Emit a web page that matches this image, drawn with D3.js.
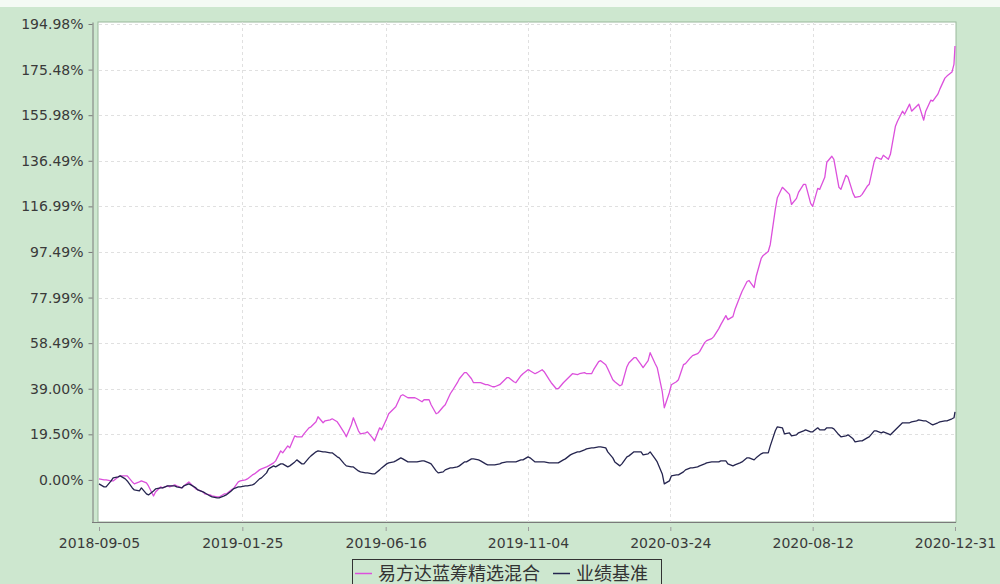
<!DOCTYPE html>
<html><head><meta charset="utf-8">
<script src="https://cdn.jsdelivr.net/npm/d3@7/dist/d3.min.js"></script>
<style>html,body{margin:0;padding:0;background:#cde7cf;} svg{display:block}</style>
</head><body><svg id="c" width="1000" height="584"></svg>
<script>
// Wednesday samples
const wedDates = [
"2018-09-05","2018-09-12","2018-09-19","2018-09-26","2018-10-03","2018-10-10","2018-10-17","2018-10-24","2018-10-31","2018-11-07",
"2018-11-14","2018-11-21","2018-11-28","2018-12-05","2018-12-12","2018-12-19","2018-12-26","2019-01-02","2019-01-09","2019-01-16",
"2019-01-23","2019-01-30","2019-02-06","2019-02-13","2019-02-20","2019-02-27","2019-03-06","2019-03-13","2019-03-20","2019-03-27",
"2019-04-03","2019-04-10","2019-04-17","2019-04-24","2019-05-01","2019-05-08","2019-05-15","2019-05-22","2019-05-29","2019-06-05",
"2019-06-12","2019-06-19","2019-06-26","2019-07-03","2019-07-10","2019-07-17","2019-07-24","2019-07-31","2019-08-07","2019-08-14",
"2019-08-21","2019-08-28","2019-09-04","2019-09-11","2019-09-18","2019-09-25","2019-10-02","2019-10-09","2019-10-16","2019-10-23",
"2019-10-30","2019-11-06","2019-11-13","2019-11-20","2019-11-27","2019-12-04","2019-12-11","2019-12-18","2019-12-25","2020-01-01",
"2020-01-08","2020-01-15","2020-01-22","2020-01-29","2020-02-05","2020-02-12","2020-02-19","2020-02-26","2020-03-04","2020-03-11",
"2020-03-18","2020-03-25","2020-04-01","2020-04-08","2020-04-15","2020-04-22","2020-04-29","2020-05-06","2020-05-13","2020-05-20",
"2020-05-27","2020-06-03","2020-06-10","2020-06-17","2020-06-24","2020-07-01","2020-07-08","2020-07-15","2020-07-22","2020-07-29",
"2020-08-05","2020-08-12","2020-08-19","2020-08-26","2020-09-02","2020-09-09","2020-09-16","2020-09-23","2020-09-30","2020-10-07",
"2020-10-14","2020-10-21","2020-10-28","2020-11-04","2020-11-11","2020-11-18","2020-11-25","2020-12-02","2020-12-09","2020-12-16",
"2020-12-23","2020-12-30","2020-12-31"];

const wedFund = [
0.43,0.00,-0.43,1.71,1.71,-1.71,-0.43,-2.57,-5.14,-3.43,
-3.00,-2.57,-2.57,-1.71,-4.29,-6.00,-6.86,-7.29,-6.00,-3.86,
-0.43,0.43,2.57,4.71,6.00,8.14,11.57,13.71,18.43,19.71,
22.71,27.00,25.28,26.14,23.57,18.43,26.57,19.71,20.57,16.71,
21.43,28.28,31.28,36.43,35.14,34.71,34.28,32.14,28.71,32.14,
38.14,43.28,45.85,41.57,41.57,40.71,39.85,41.57,43.71,41.57,
45.42,46.71,45.85,46.28,41.57,39.00,42.42,45.42,45.42,45.42,
47.14,51.00,47.57,42.00,40.71,50.14,52.28,48.00,54.42,48.00,
30.85,40.71,42.85,49.71,53.14,54.85,59.57,61.28,66.42,68.56,
72.85,80.56,85.28,86.99,95.99,100.70,120.70,124.30,117.80,122.99,
126.42,116.99,124.27,135.84,137.13,124.27,129.42,120.85,122.13,126.42,
137.99,138.84,139.27,153.41,156.41,157.70,160.70,157.70,161.98,167.13,
172.70,177.84,185.55];

const wedBench = [
-1.71,-3.00,0.86,1.71,-0.43,-4.29,-3.43,-6.43,-3.86,-3.43,
-2.57,-3.00,-2.57,-2.14,-4.29,-5.57,-7.29,-7.71,-6.43,-3.86,
-3.00,-2.57,-1.71,0.86,4.71,5.57,6.86,6.00,8.57,6.86,
10.28,12.43,12.00,11.57,9.43,6.00,5.57,3.43,3.00,2.57,
5.14,7.29,8.14,9.00,7.71,7.71,8.14,6.86,3.00,4.29,
5.14,6.00,7.71,9.00,8.14,6.43,6.43,7.29,7.71,7.71,
8.57,9.43,7.71,7.71,7.29,7.29,9.00,11.14,12.00,13.28,
13.71,14.14,12.00,7.71,6.86,10.28,12.00,10.71,12.00,7.71,
-1.71,1.71,2.14,4.29,5.14,6.00,7.29,7.71,8.14,6.86,
6.43,7.71,9.43,9.43,11.57,14.57,22.71,19.71,18.86,20.14,
21.43,20.57,21.43,22.28,21.85,18.43,19.28,16.28,16.71,18.43,
21.00,20.57,19.28,22.28,24.43,24.85,25.71,25.28,23.57,24.85,
25.28,26.57,29.14];

// Monday samples
const monDates = [
"2018-09-10","2018-09-17","2018-09-24","2018-10-01","2018-10-08","2018-10-15","2018-10-22","2018-10-29","2018-11-05","2018-11-12",
"2018-11-19","2018-11-26","2018-12-03","2018-12-10","2018-12-17","2018-12-24","2018-12-31","2019-01-07","2019-01-14","2019-01-21",
"2019-01-28","2019-02-04","2019-02-11","2019-02-18","2019-02-25","2019-03-04","2019-03-11","2019-03-18","2019-03-25","2019-04-01",
"2019-04-08","2019-04-15","2019-04-22","2019-04-29","2019-05-06","2019-05-13","2019-05-20","2019-05-27","2019-06-03","2019-06-10",
"2019-06-17","2019-06-24","2019-07-01","2019-07-08","2019-07-15","2019-07-22","2019-07-29","2019-08-05","2019-08-12","2019-08-19",
"2019-08-26","2019-09-02","2019-09-09","2019-09-16","2019-09-23","2019-09-30","2019-10-07","2019-10-14","2019-10-21","2019-10-28",
"2019-11-04","2019-11-11","2019-11-18","2019-11-25","2019-12-02","2019-12-09","2019-12-16","2019-12-23","2019-12-30","2020-01-06",
"2020-01-13","2020-01-20","2020-01-27","2020-02-03","2020-02-10","2020-02-17","2020-02-24","2020-03-02","2020-03-09","2020-03-16",
"2020-03-23","2020-03-30","2020-04-06","2020-04-13","2020-04-20","2020-04-27","2020-05-04","2020-05-11","2020-05-18","2020-05-25",
"2020-06-01","2020-06-08","2020-06-15","2020-06-22","2020-06-29","2020-07-06","2020-07-13","2020-07-20","2020-07-27","2020-08-03",
"2020-08-10","2020-08-17","2020-08-24","2020-08-31","2020-09-07","2020-09-14","2020-09-21","2020-09-28","2020-10-05","2020-10-12",
"2020-10-19","2020-10-26","2020-11-02","2020-11-09","2020-11-16","2020-11-23","2020-11-30","2020-12-07","2020-12-14","2020-12-21",
"2020-12-28"];

const monFund = [
0.00,-0.43,1.29,1.71,-0.86,-0.86,-1.29,-6.86,-3.00,-2.57,
-2.14,-3.43,-0.86,-3.86,-5.14,-6.43,-7.29,-6.00,-4.29,-0.86,
0.00,2.14,4.29,5.57,7.29,12.43,14.57,18.86,18.43,22.28,
24.85,24.43,25.71,24.85,20.14,23.57,21.00,20.14,18.00,22.28,
26.14,30.43,36.00,35.14,35.14,33.43,34.28,28.28,31.28,36.85,
41.57,45.85,43.28,41.57,40.71,39.85,40.71,43.71,42.00,44.57,
47.14,45.42,47.14,42.85,39.00,41.57,44.57,45.00,45.85,45.42,
50.57,49.28,42.85,40.28,48.42,52.28,49.28,51.00,49.71,37.71,
37.28,42.00,49.28,52.28,53.99,58.71,60.42,64.71,70.28,69.85,
78.42,84.85,82.28,94.71,97.70,115.70,125.13,122.13,120.42,126.42,
118.27,124.70,129.42,138.42,125.13,130.27,122.56,121.27,125.56,136.27,
137.13,137.13,151.28,157.70,160.70,159.83,153.84,162.41,164.98,171.84,
174.41];

const monBench = [
-3.00,-0.43,1.29,0.43,-3.43,-4.71,-6.00,-4.71,-3.43,-2.57,
-2.57,-3.43,-1.71,-3.43,-5.14,-6.86,-7.71,-6.86,-4.71,-3.00,
-2.57,-2.14,0.43,3.00,6.00,6.86,5.57,7.71,6.86,9.43,
12.00,12.00,11.57,9.86,6.86,5.57,3.86,3.00,2.57,4.29,
6.86,7.71,9.43,7.71,7.71,8.14,7.29,3.86,3.43,5.14,
5.57,7.71,9.00,8.57,6.86,6.43,6.86,7.71,7.71,8.57,
9.86,7.71,7.71,7.29,7.29,8.57,10.71,12.00,12.86,13.71,
14.14,13.71,9.43,6.00,9.86,12.00,12.00,11.14,9.00,2.57,
-0.43,2.14,3.43,5.14,5.57,6.86,7.71,7.71,8.14,6.00,
7.29,9.43,8.57,11.14,11.57,21.00,22.28,20.14,19.28,21.00,
20.57,22.28,21.43,22.28,19.28,18.86,17.57,16.71,18.00,21.00,
20.14,19.71,21.43,24.43,24.43,25.28,25.28,24.00,24.43,25.28,
26.14];

const seriesNames = ["易方达蓝筹精选混合", "业绩基准"];
const seriesColors = ["#dc50dc", "#25254f"];
const yTickValues = [0, 19.50, 39.00, 58.49, 77.99, 97.49, 116.99, 136.49, 155.98, 175.48, 194.98];
const yTickLabels = ["0.00%","19.50%","39.00%","58.49%","77.99%","97.49%","116.99%","136.49%","155.98%","175.48%","194.98%"];
const xTickLabels = ["2018-09-05","2019-01-25","2019-06-16","2019-11-04","2020-03-24","2020-08-12","2020-12-31"];

const parse = d3.timeParse("%Y-%m-%d");
const rows = wedDates.map((d,i)=>({date:parse(d), fund:wedFund[i], bench:wedBench[i]}))
  .concat(monDates.map((d,i)=>({date:parse(d), fund:monFund[i], bench:monBench[i]})))
  .sort((a,b)=>a.date-b.date);
const xTicks = xTickLabels.map(parse);

const svg = d3.select("#c");
const L = 99, R = 955, T = 22, B = 522;
const x = d3.scaleTime().domain(d3.extent(rows, r=>r.date)).range([L, R]);
const y = d3.scaleLinear().domain([-18.0, 195.84]).range([B, T]);

// top light band
svg.append("rect").attr("x",0).attr("y",0).attr("width",1000).attr("height",7).attr("fill","#f4faf4");

// plot area
svg.append("rect").attr("x",L-1).attr("y",T).attr("width",R-L+2).attr("height",B-T)
  .attr("fill","#ffffff").attr("stroke","#9ab89c").attr("stroke-width",1);

// grid
const g = svg.append("g");
g.selectAll("line.h").data(yTickValues.slice(1)).join("line")
  .attr("x1",L).attr("x2",R).attr("y1",d=>Math.round(y(d))+0.5).attr("y2",d=>Math.round(y(d))+0.5)
  .attr("stroke","#e0e0e0").attr("stroke-dasharray","3,3");
g.selectAll("line.v").data(xTicks.slice(1,-1)).join("line")
  .attr("y1",T).attr("y2",B).attr("x1",d=>Math.round(x(d))+0.5).attr("x2",d=>Math.round(x(d))+0.5)
  .attr("stroke","#e0e0e0").attr("stroke-dasharray","3,3");

// lines
const lineF = d3.line().x(d=>x(d.date)).y(d=>y(d.fund));
const lineB = d3.line().x(d=>x(d.date)).y(d=>y(d.bench));
svg.append("path").datum(rows).attr("d",lineF).attr("fill","none")
  .attr("stroke",seriesColors[0]).attr("stroke-width",1.3).attr("stroke-linejoin","round");
svg.append("path").datum(rows).attr("d",lineB).attr("fill","none")
  .attr("stroke",seriesColors[1]).attr("stroke-width",1.3).attr("stroke-linejoin","round");

// y axis
const font = "'DejaVu Sans', Verdana, sans-serif";
const ya = svg.append("g").attr("transform","translate(92.5,0)")
  .call(d3.axisLeft(y).tickValues(yTickValues).tickFormat((d,i)=>yTickLabels[i]).tickSize(4).tickSizeOuter(0).tickPadding(5));
ya.select(".domain").attr("stroke","#7a7a7a");
ya.selectAll(".tick line").attr("stroke","#7a7a7a");
ya.selectAll("text").attr("font-family",font).attr("font-size",14).attr("fill","#3a3a3a");

// bottom axis line
svg.append("line").attr("x1",92).attr("x2",R+1).attr("y1",B+0.5).attr("y2",B+0.5).attr("stroke","#7a7a7a");

// x axis
const xa = svg.append("g").attr("transform","translate(0,527)")
  .call(d3.axisBottom(x).tickValues(xTicks).tickFormat((d,i)=>xTickLabels[i]).tickSize(4).tickSizeOuter(0).tickPadding(7));
xa.select(".domain").remove();
xa.selectAll(".tick line").attr("stroke","#9a9a9a");
xa.selectAll("text").attr("font-family",font).attr("font-size",14).attr("fill","#3a3a3a");

// legend
const lg = svg.append("g");
lg.append("rect").attr("x",352.5).attr("y",559.5).attr("width",309).attr("height",30)
  .attr("fill","none").attr("stroke","#333").attr("stroke-width",1);
const cjk = "'Noto Sans CJK SC', sans-serif";
const items = [{x:355, tx:378}, {x:553, tx:576}];
items.forEach((it,i)=>{
  lg.append("line").attr("x1",it.x).attr("x2",it.x+17).attr("y1",573.5).attr("y2",573.5)
    .attr("stroke",seriesColors[i]).attr("stroke-width",1.5);
  lg.append("text").attr("x",it.tx).attr("y",580).text(seriesNames[i])
    .attr("font-family",cjk).attr("font-size",18).attr("fill","#333");
});
</script>
</body></html>
